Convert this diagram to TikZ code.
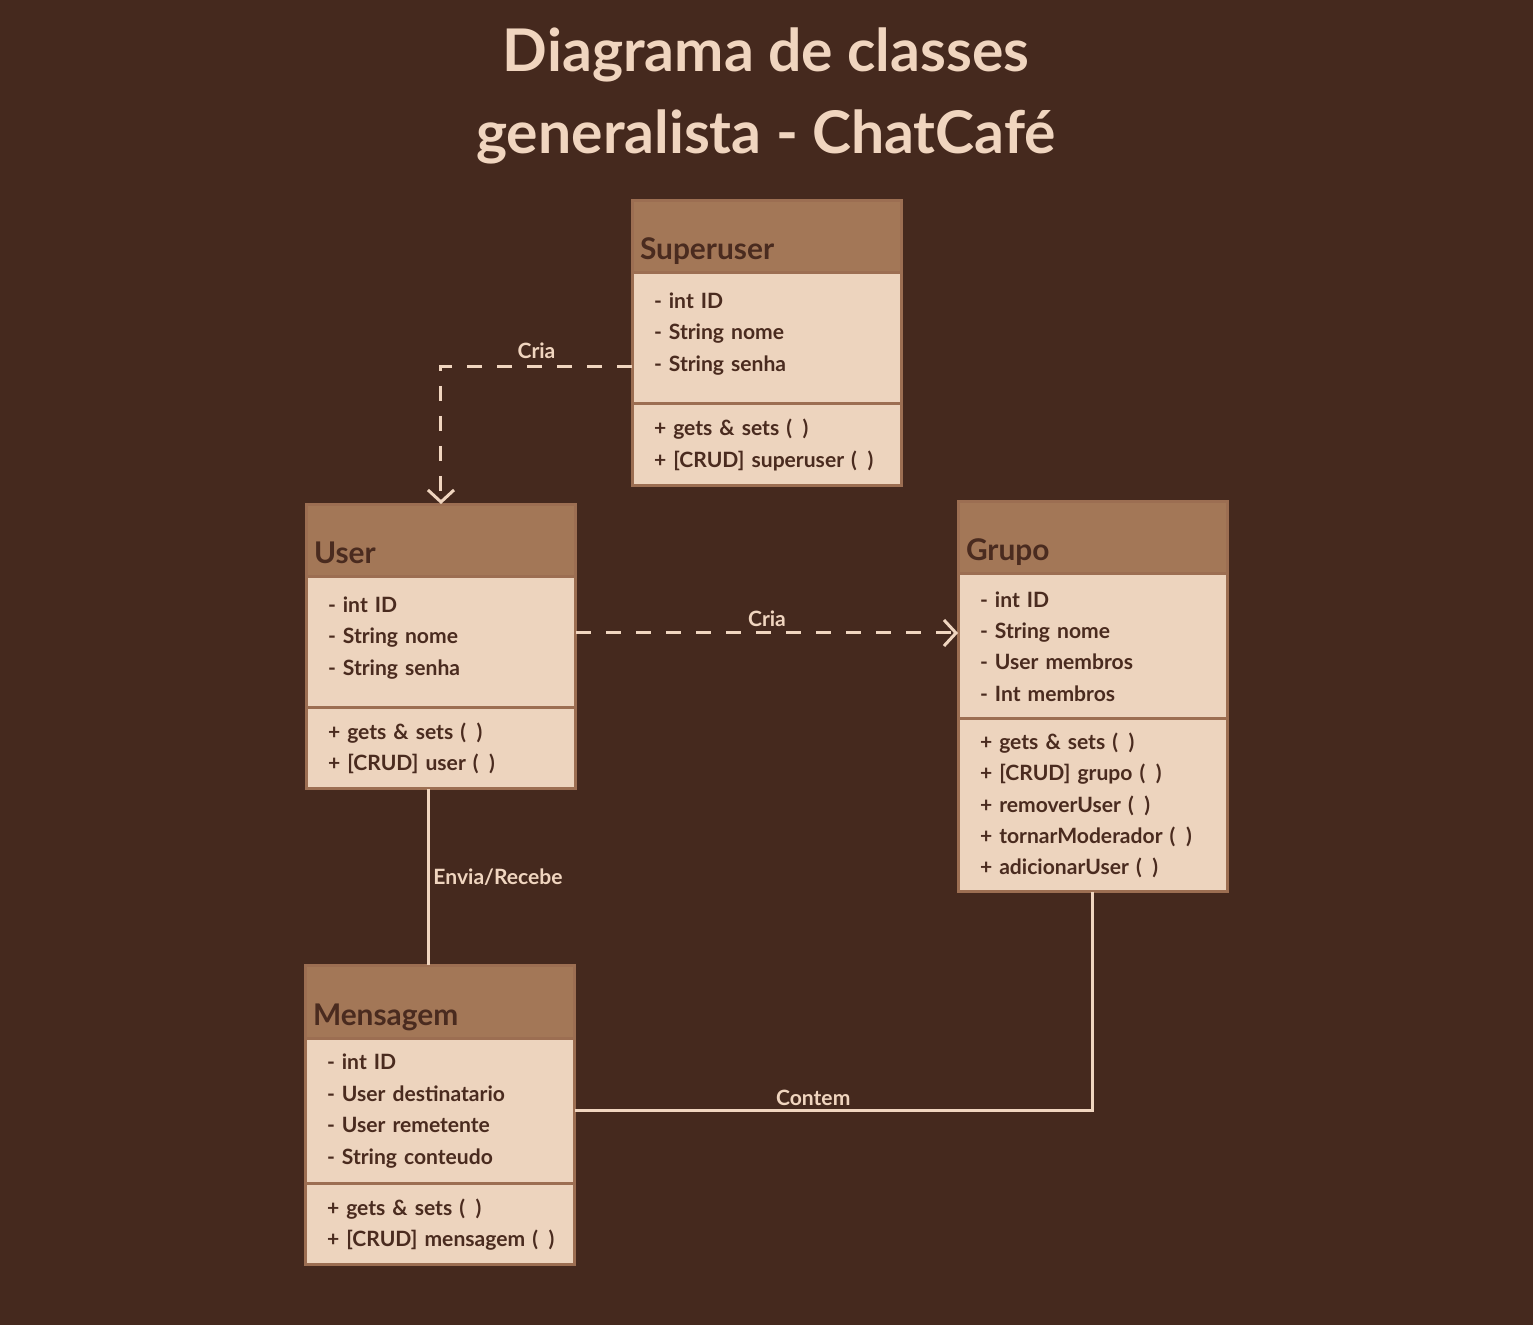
\documentclass[tikz,border=0pt]{standalone}
\usepackage{fontspec}
\setmainfont{Lato}
\usetikzlibrary{arrows.meta, positioning}

\definecolor{cafebg}{HTML}{45291E}
\definecolor{cafehead}{HTML}{A37757}
\definecolor{cafebody}{HTML}{EDD4BE}
\definecolor{cafeedge}{HTML}{9C6E52}
\definecolor{cafeink}{HTML}{4A2B1F}
\definecolor{cafeline}{HTML}{F0D5BF}

\begin{document}
\begin{tikzpicture}[
  x=0.02cm, y=-0.02cm,
  node distance=0pt,
  every node/.style={font=\bfseries},
  classhead/.style={rectangle, draw=cafeedge, line width=0.06cm, fill=cafehead, text=cafeink, outer sep=0pt,
    minimum width=5.4cm, minimum height=1.46cm, inner xsep=0.16cm, inner ysep=0pt, text width=5.08cm, align=left,
    text height=1.04cm, text depth=0.1cm, font=\bfseries\fontsize{17}{20}\selectfont},
  classbody/.style={rectangle, draw=cafeedge, line width=0.06cm, fill=cafebody, text=cafeink, outer sep=0pt,
    minimum width=5.4cm, inner xsep=0.44cm, text width=4.52cm, align=left,
    font=\bfseries\fontsize{12}{17.9}\selectfont},
  dep/.style={draw=cafeline, line width=0.06cm, dash pattern=on 0.3cm off 0.3cm,
    -{Straight Barb[length=0.24cm, width=0.52cm]}},
  assoc/.style={draw=cafeline, line width=0.06cm},
  lbl/.style={text=cafeline, font=\bfseries\fontsize{12}{14}\selectfont, inner sep=2pt},
]
  \fill[cafebg] (0,0) rectangle (1533,1325);

  \node[text=cafeline, align=center, font=\bfseries\fontsize{33.5}{47}\selectfont] (title) at (766,96)
    {Diagrama de classes\\generalista - ChatCafé};

  \node[classhead, anchor=north west] (su-head) at (632,200) {Superuser};
  \node[classbody, minimum height=2.62cm, below=of su-head] (su-attr)
    {- int ID\\- String nome\\- String senha\\[-0.36cm]\mbox{}};
  \node[classbody, minimum height=1.64cm, below=of su-attr] (su-meth)
    {+ gets \& sets~(\enspace)\\\mbox{+ [CRUD] superuser (\enspace)}};

  \node[classhead, anchor=north west] (user-head) at (306,504) {User};
  \node[classbody, minimum height=2.62cm, below=of user-head] (user-attr)
    {- int ID\\- String nome\\- String senha\\[-0.36cm]\mbox{}};
  \node[classbody, minimum height=1.62cm, below=of user-attr] (user-meth)
    {+ gets \& sets~(\enspace)\\+ [CRUD] user~(\enspace)};

  \node[classhead, anchor=north west] (grupo-head) at (958,501) {Grupo};
  \node[classbody, minimum height=2.9cm, below=of grupo-head] (grupo-attr)
    {- int ID\\- String nome\\- User membros\\- Int membros};
  \node[classbody, minimum height=3.46cm, below=of grupo-attr] (grupo-meth)
    {+ gets \& sets~(\enspace)\\+ [CRUD] grupo~(\enspace)\\+ removerUser~(\enspace)\\\mbox{+ tornarModerador (\enspace)}\\+ adicionarUser~(\enspace)};

  \node[classhead, anchor=north west] (msg-head) at (305,965) {Mensagem};
  \node[classbody, minimum height=2.92cm, below=of msg-head] (msg-attr)
    {- int ID\\- User destinatario\\- User remetente\\- String conteudo};
  \node[classbody, minimum height=1.62cm, below=of msg-attr] (msg-meth)
    {+ gets \& sets~(\enspace)\\\mbox{+ [CRUD] mensagem (\enspace)}};

  \draw[dep] ([yshift=-0.57cm]su-attr.west) -| node[lbl, pos=0.25, above, yshift=2pt] {Cria} (user-head.north);
  \draw[dep] ([yshift=0.19cm]user-attr.east) -- node[lbl, above, yshift=1pt] {Cria} ([yshift=0.19cm]user-attr.east -| grupo-attr.west);
  \draw[assoc] ([xshift=-0.25cm]user-meth.south) -- node[lbl, right] {Envia/Recebe} ([xshift=-0.25cm]user-meth.south |- msg-head.north);
  \draw[assoc] (msg-attr.east) -| node[lbl, pos=0.23, above] {Contem} (grupo-meth.south);
\end{tikzpicture}
\end{document}
